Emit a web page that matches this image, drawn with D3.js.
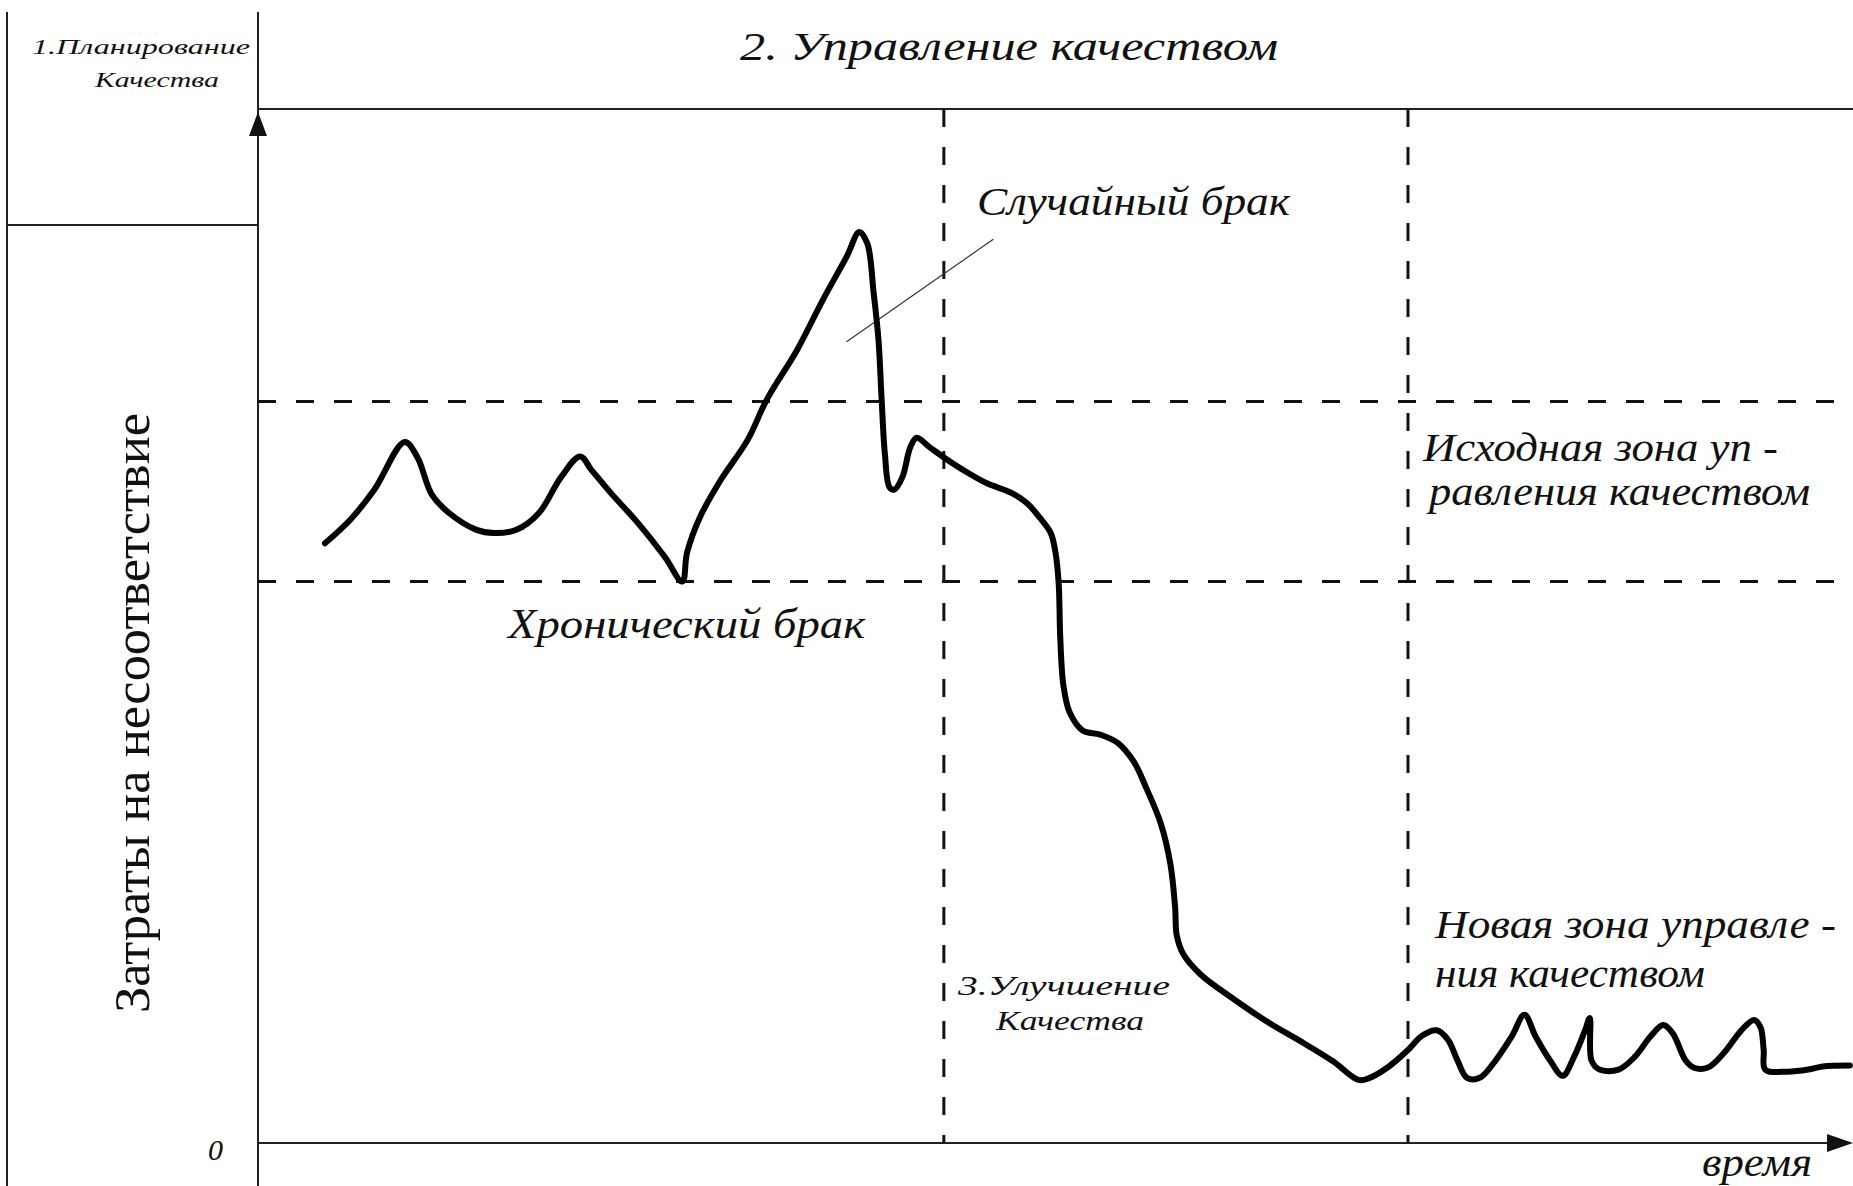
<!DOCTYPE html>
<html>
<head>
<meta charset="utf-8">
<script src="https://d3js.org/d3.v7.min.js"></script>
<style>
body{margin:0;background:#fff;}
text{font-family:"Liberation Serif","Times New Roman",serif;fill:#111;}
</style>
</head>
<body>
<div id="chart"></div>
<script>

// time (0..100) vs cost of nonconformance (0..100)
var curve=[[4.2,58.0],[5.8,60.3],[7.3,63.2],[9.2,67.8],[10.0,66.3],[10.9,62.7],[12.0,60.9],[13.7,59.3],[14.8,59.0],
[16.2,59.3],[17.6,60.9],[19.0,64.4],[20.2,66.4],[20.9,65.1],[22.1,62.9],[23.8,60.0],[25.5,56.7],[26.6,54.3],
[26.9,57.1],[27.7,60.5],[29.0,64.1],[30.7,68.0],[31.9,71.9],[33.8,76.7],[35.4,81.5],[36.9,85.7],[37.7,88.1],
[38.2,87.0],[38.6,82.2],[38.9,77.7],[39.1,71.9],[39.3,66.7],[39.6,63.4],[39.9,63.2],[40.4,64.4],[40.9,67.3],
[41.3,68.2],[42.1,67.3],[43.0,66.3],[44.2,65.1],[45.7,63.8],[47.2,62.9],[48.2,61.9],[49.0,60.5],[49.7,59.0],
[50.0,57.1],[50.2,54.1],[50.3,48.8],[50.5,44.2],[50.9,41.6],[51.7,39.9],[52.8,39.5],[53.9,38.7],[54.9,36.9],
[55.7,34.3],[56.6,30.9],[57.2,27.0],[57.5,22.8],[57.6,20.1],[58.0,18.3],[59.1,16.3],[61.1,14.0],[63.3,11.7],
[65.3,9.9],[67.4,7.9],[69.0,6.1],[69.7,6.3],[70.9,7.4],[72.1,9.0],[73.0,10.4],[73.9,10.9],[74.6,10.0],
[75.2,8.0],[75.8,6.3],[76.6,6.3],[77.6,8.0],[78.6,10.3],[79.4,12.4],[80.1,10.3],[81.0,8.0],[81.8,6.5],
[82.5,8.3],[83.2,10.9],[83.5,12.1],[83.6,8.0],[84.1,7.1],[85.3,7.1],[86.3,8.3],[87.3,10.3],[88.1,11.4],
[88.7,10.6],[89.5,8.0],[90.0,7.3],[90.9,7.3],[91.9,8.7],[93.0,10.9],[93.8,11.9],[94.2,11.2],[94.4,9.0],
[94.5,7.1],[95.9,6.9],[97.2,7.1],[98.1,7.4],[99.8,7.5]];

var zoneLevels=[54.3,71.7];      // bounds of the original control zone
var phaseBounds=[43.0,72.1];     // start / end of improvement
var randomLeader=[[36.9,77.5],[46.1,87.4]];

var width=1853,height=1186;
var x=d3.scaleLinear().domain([0,100]).range([258,1853]);
var y=d3.scaleLinear().domain([0,100]).range([1143,109]);

var svg=d3.select("#chart").append("svg")
    .attr("width",width)
    .attr("height",height);

// frame
svg.append("line").attr("x1",7).attr("x2",7).attr("y1",12).attr("y2",height)
    .style("stroke","#222").style("stroke-width",2);
svg.append("line").attr("x1",x(0)).attr("x2",x(0)).attr("y1",12).attr("y2",height)
    .style("stroke","#222").style("stroke-width",2);
svg.append("line").attr("x1",7).attr("x2",x(0)).attr("y1",225).attr("y2",225)
    .style("stroke","#222").style("stroke-width",2);
svg.append("line").attr("x1",x(0)).attr("x2",width).attr("y1",y(100)).attr("y2",y(100))
    .style("stroke","#222").style("stroke-width",2);

// x axis with arrow
svg.append("line").attr("x1",x(0)).attr("x2",width-10).attr("y1",y(0)).attr("y2",y(0))
    .style("stroke","#222").style("stroke-width",2);
svg.append("path")
    .attr("d","M"+width+","+y(0)+" L"+(width-26)+","+(y(0)-9)+" L"+(width-26)+","+(y(0)+9)+"Z")
    .style("fill","#111");
// y axis arrow
svg.append("path")
    .attr("d","M"+x(0)+","+(y(100)+3)+" L"+(x(0)-9)+","+(y(100)+27)+" L"+(x(0)+9)+","+(y(100)+27)+"Z")
    .style("fill","#111");

// dashed zone lines
svg.selectAll(".zone")
    .data(zoneLevels)
    .enter()
    .append("line")
    .attr("class","zone")
    .attr("x1",x(0)).attr("x2",width)
    .attr("y1",function(d){return y(d);})
    .attr("y2",function(d){return y(d);})
    .style("stroke","#111").style("stroke-width",3)
    .style("stroke-dasharray","18,20");

svg.selectAll(".phase")
    .data(phaseBounds)
    .enter()
    .append("line")
    .attr("class","phase")
    .attr("x1",function(d){return x(d);})
    .attr("x2",function(d){return x(d);})
    .attr("y1",y(100)).attr("y2",y(0))
    .style("stroke","#111").style("stroke-width",3)
    .style("stroke-dasharray","18,20");

// leader line for random defect
svg.append("path")
    .attr("d",d3.line().x(function(d){return x(d[0]);}).y(function(d){return y(d[1]);})(randomLeader))
    .style("stroke","#333").style("stroke-width",1.2).style("fill","none");

// cost curve
var line=d3.line()
    .x(function(d){return x(d[0]);})
    .y(function(d){return y(d[1]);})
    .curve(d3.curveCatmullRom.alpha(0.5));

svg.append("path")
    .datum(curve)
    .attr("d",line)
    .style("fill","none")
    .style("stroke","#000")
    .style("stroke-width",6)
    .style("stroke-linejoin","round")
    .style("stroke-linecap","round");

// labels
function label(t,px,py,size,len){
    var el=svg.append("text")
        .attr("x",px).attr("y",py)
        .style("font-size",size+"px")
        .style("font-style","italic")
        .text(t);
    if(len) el.attr("textLength",len).attr("lengthAdjust","spacingAndGlyphs");
    return el;
}

label("2. Управление качеством",740,60,40,538);
label("1.Планирование",32,54,21,218);
label("Качества",95,87,21,124);
label("Случайный брак",977,215,40,313);
label("Хронический брак",508,638,42,357);
label("Исходная зона уп -",1423,461,40,355);
label("равления качеством",1429,505,40,381);
label("Новая зона управле -",1435,938,40,401);
label("ния качеством",1435,987,40,270);
label("3.Улучшение",958,995,27,212);
label("Качества",996,1030,27,148);
label("время",1702,1176,40,110);
label("0",208,1160,30);

svg.append("text")
    .attr("transform","translate(149,713) rotate(-90)")
    .attr("text-anchor","middle")
    .attr("textLength",600)
    .attr("lengthAdjust","spacingAndGlyphs")
    .style("font-size","50px")
    .text("Затраты на несоответствие");

</script>
</body>
</html>
